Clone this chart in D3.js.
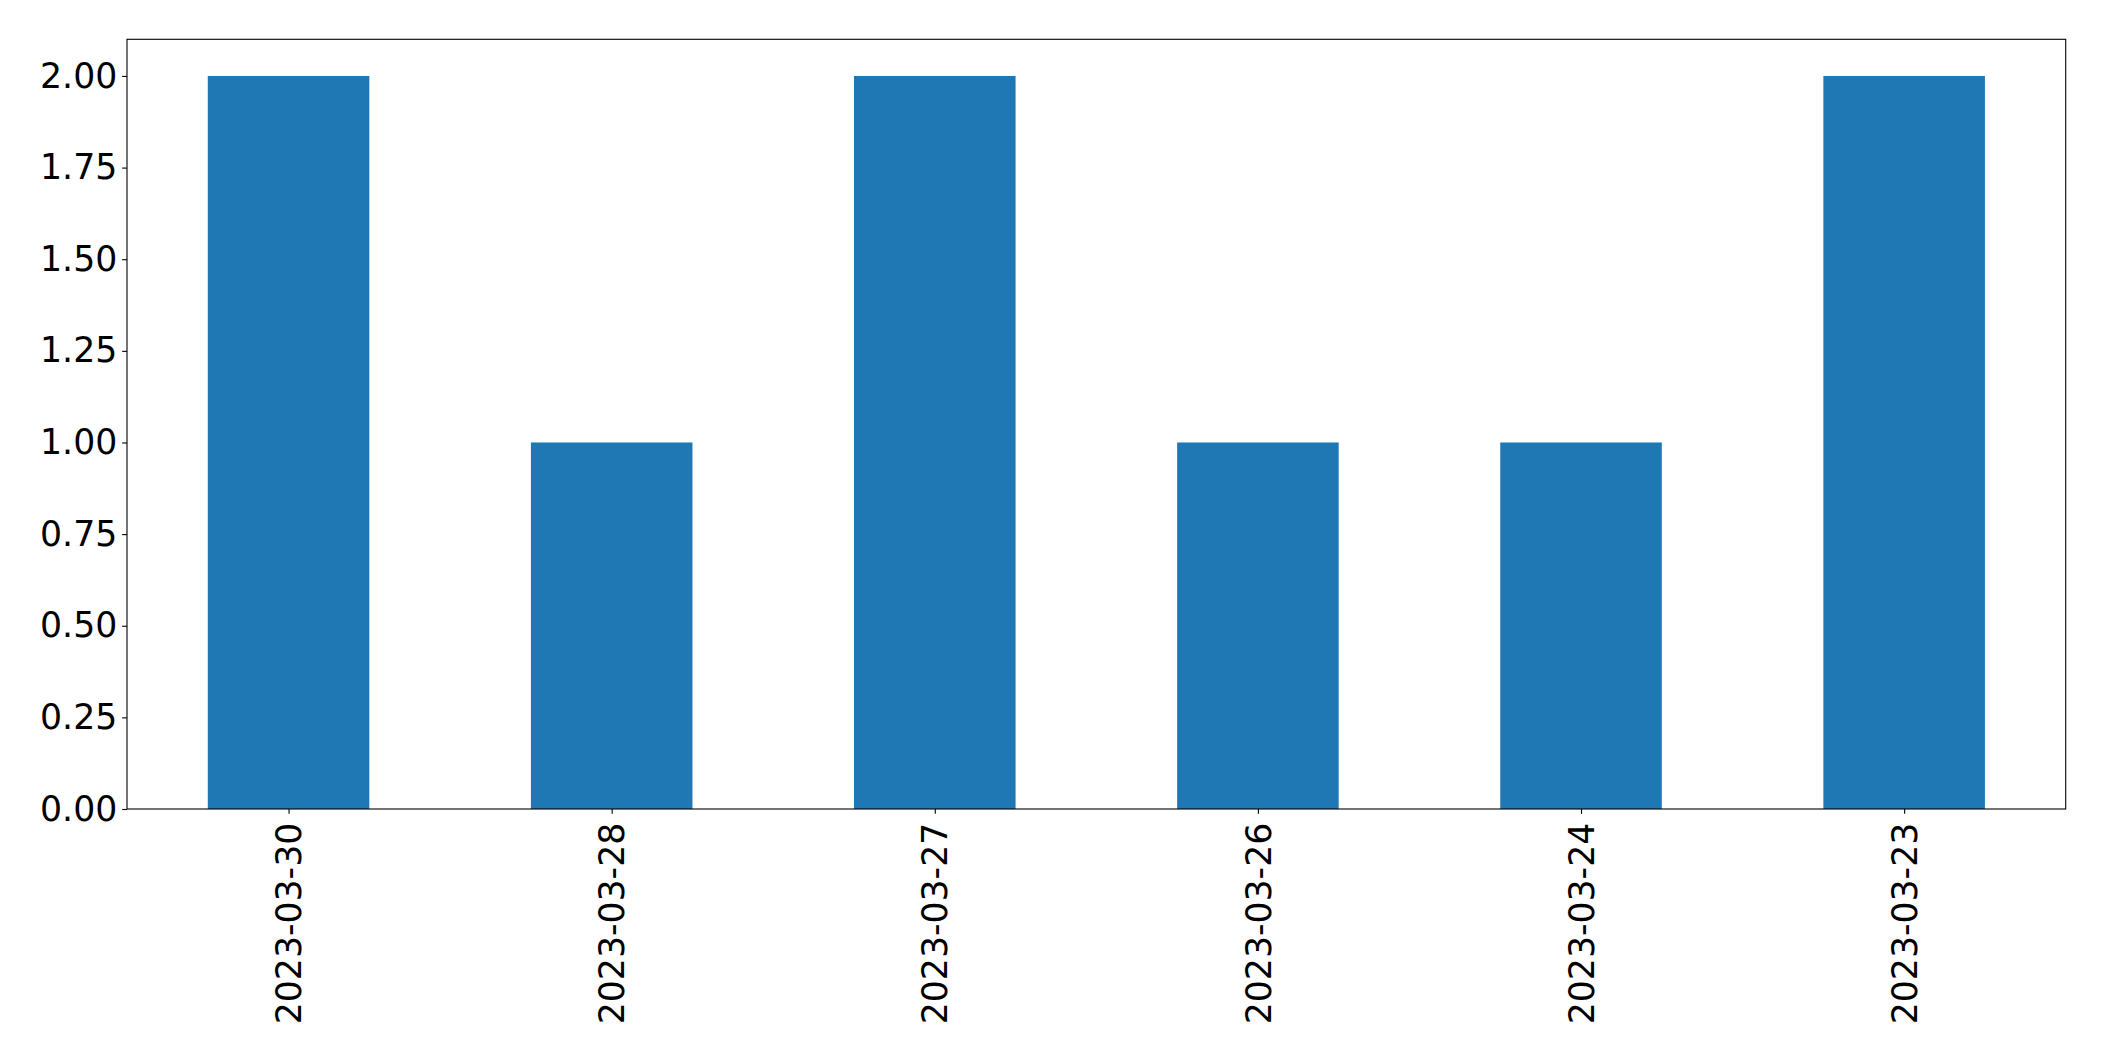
<!DOCTYPE html>
<html>
<head>
<meta charset="utf-8">
<script src="https://cdn.jsdelivr.net/npm/d3@7/dist/d3.min.js"></script>
<style>
  body { margin: 0; background: #fff; }
  svg text { font-family: 'DejaVu Sans', sans-serif; fill: #000; }
</style>
</head>
<body>
<svg id="chart" width="2104" height="1061"></svg>
<script>
// data
var dates = ['2023-03-30', '2023-03-28', '2023-03-27', '2023-03-26', '2023-03-24', '2023-03-23']
var counts = [2, 1, 2, 1, 1, 2]
var yTicks = [0, 0.25, 0.5, 0.75, 1, 1.25, 1.5, 1.75, 2]

var margin = { left: 127, top: 39.3, right: 2104 - 2065.7, bottom: 1061 - 809 }
var width = 2104 - margin.left - margin.right
var height = 1061 - margin.top - margin.bottom
var fontSize = 34.7
var tickLen = 4.86

var svg = d3.select('#chart')
var g = svg.append('g').attr('transform', 'translate(' + margin.left + ',' + margin.top + ')')

// matplotlib style: index positions -0.5..5.5, bar width 0.5
var x = d3.scaleLinear().domain([-0.5, dates.length - 0.5]).range([0, width])
var y = d3.scaleLinear().domain([0, 2.1]).range([height, 0])

g.selectAll('rect.bar')
  .data(counts)
  .enter().append('rect')
  .attr('class', 'bar')
  .attr('x', function (d, i) { return x(i - 0.25) })
  .attr('width', function (d, i) { return x(i + 0.25) - x(i - 0.25) })
  .attr('y', function (d) { return y(d) })
  .attr('height', function (d) { return y(0) - y(d) })
  .attr('fill', '#1f77b4')

// y axis
var yAxis = d3.axisLeft(y)
  .tickValues(yTicks)
  .tickFormat(d3.format('.2f'))
  .tickSize(tickLen)
  .tickPadding(4.86)
var yg = g.append('g').call(yAxis)
yg.select('.domain').remove()
yg.selectAll('line').attr('stroke', '#000').attr('stroke-width', 1.1)
yg.selectAll('text').attr('font-size', fontSize).attr('font-family', 'DejaVu Sans')

// x axis, rotated labels
var xAxis = d3.axisBottom(x)
  .tickValues(d3.range(dates.length))
  .tickFormat(function (i) { return dates[i] })
  .tickSize(tickLen)
var xg = g.append('g').attr('transform', 'translate(0,' + height + ')').call(xAxis)
xg.select('.domain').remove()
xg.selectAll('line').attr('stroke', '#000').attr('stroke-width', 1.1)
xg.selectAll('text')
  .attr('font-size', fontSize)
  .attr('font-family', 'DejaVu Sans')
  .attr('text-anchor', 'end')
  .attr('dy', '0.35em')
  .attr('x', 0)
  .attr('y', 0)
  .attr('transform', 'translate(0,' + (tickLen + 4.86 + 4) + ') rotate(-90)')

// frame
g.append('rect')
  .attr('width', width)
  .attr('height', height)
  .attr('fill', 'none')
  .attr('stroke', '#000')
  .attr('stroke-width', 1.1)
</script>
</body>
</html>
